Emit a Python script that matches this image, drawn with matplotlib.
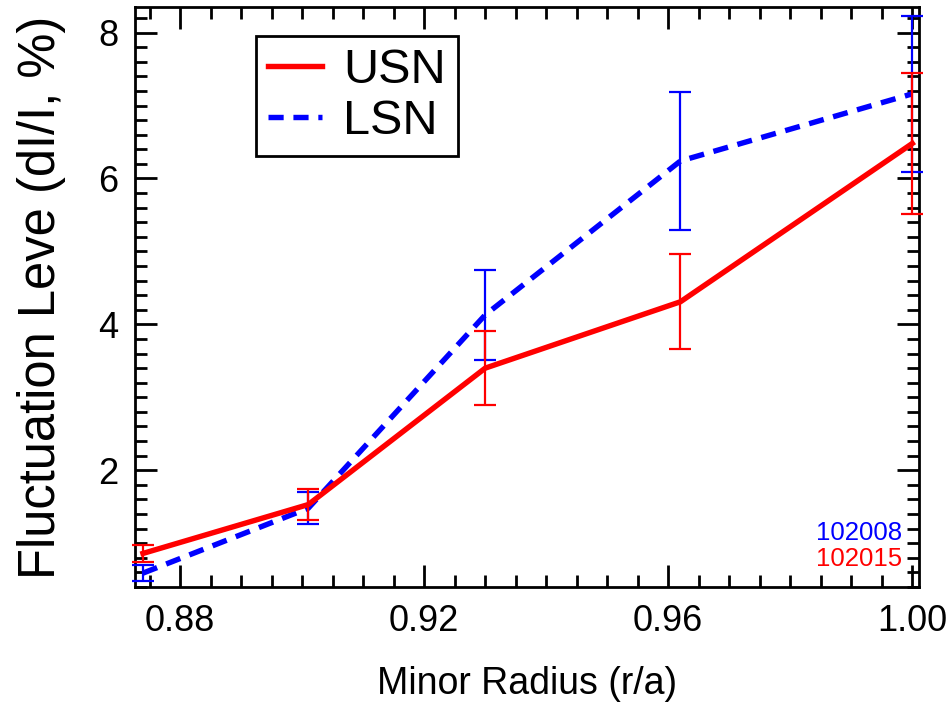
import numpy as np
import matplotlib
matplotlib.use("Agg")
import matplotlib.pyplot as plt
from matplotlib.ticker import MultipleLocator

plt.rcParams['font.family'] = ['Liberation Sans', 'DejaVu Sans']

# radial positions of the probe channels
radius = [0.8739, 0.901, 0.930, 0.962, 1.000]

# upper single null
usn_level = [0.86, 1.53, 3.40, 4.31, 6.48]
usn_err = [0.12, 0.21, 0.51, 0.65, 0.97]

# lower single null
lsn_level = [0.59, 1.48, 4.13, 6.24, 7.16]
lsn_err = [0.11, 0.22, 0.62, 0.94, 1.07]

shot_labels = ["102008", "102015"]
shot_colors = ["blue", "red"]

fig = plt.figure(figsize=(9.53, 7.05), dpi=100)
ax = fig.add_axes([0.1417, 0.1674, 0.8226, 0.8226])

# LSN first so the USN curve sits on top
ln_lsn, = ax.plot(radius, lsn_level, color="blue", lw=3.9, dashes=(2.8, 1.8),
                  label="LSN", zorder=3)
ax.errorbar(radius, lsn_level, yerr=lsn_err, fmt="none", ecolor="blue",
            elinewidth=1.6, capsize=8, capthick=1.6, zorder=3, clip_on=False)
ln_usn, = ax.plot(radius, usn_level, color="red", lw=3.9, label="USN", zorder=4)
ax.errorbar(radius, usn_level, yerr=usn_err, fmt="none", ecolor="red",
            elinewidth=1.6, capsize=8, capthick=1.6, zorder=4, clip_on=False)

ax.set_xlim(0.8726, 1.0011)
ax.set_ylim(0.40, 8.35)
ax.xaxis.set_major_locator(MultipleLocator(0.04))
ax.xaxis.set_minor_locator(MultipleLocator(0.005))
ax.yaxis.set_major_locator(MultipleLocator(2))
ax.yaxis.set_minor_locator(MultipleLocator(0.2))
ax.xaxis.set_major_formatter(plt.FuncFormatter(lambda v, p: "%.2f" % v))

ax.tick_params(which="both", direction="in", top=True, right=True, width=2,
               labelsize=26, pad=12)
ax.tick_params(which="major", length=16)
ax.tick_params(which="minor", length=8.5)
for s in ax.spines.values():
    s.set_linewidth(2)

ax.set_xlabel("Minor Radius (r/a)", fontsize=27, labelpad=20)
ax.set_ylabel("Fluctuation Leve (dI/I, %)", fontsize=36.5, labelpad=23)

leg = ax.legend(handles=[ln_usn, ln_lsn], loc="upper left",
                bbox_to_anchor=(0.154, 0.95), fontsize=35, fancybox=False,
                framealpha=1, edgecolor="black", handlelength=1.12,
                handletextpad=0.42, borderpad=0.25, labelspacing=0.12,
                borderaxespad=0)
leg.get_frame().set_linewidth(2)

for i, (lab, col) in enumerate(zip(shot_labels, shot_colors)):
    ax.text(0.978, 0.093 - 0.045 * i, lab, color=col, fontsize=18.5,
            ha="right", va="center", transform=ax.transAxes)

fig.savefig("out.png", dpi=100)
